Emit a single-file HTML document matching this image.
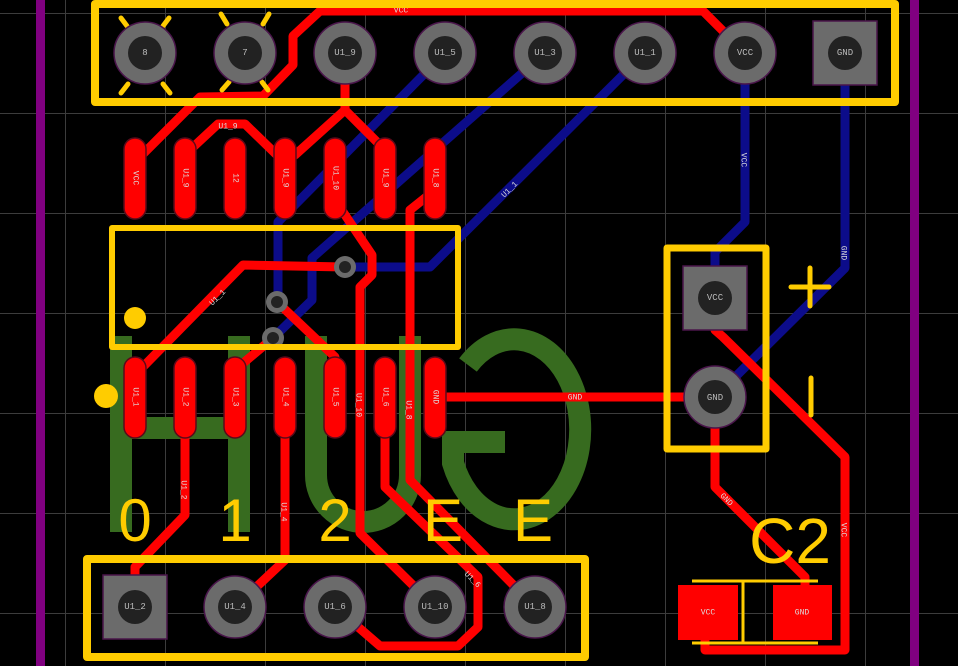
<!DOCTYPE html>
<html><head><meta charset="utf-8"><style>
html,body{margin:0;padding:0;background:#000;}
svg{display:block}
.lbl{font-family:"Liberation Mono",monospace;font-size:9px;fill:#bbb;text-anchor:middle;dominant-baseline:central}
.tl{font-family:"Liberation Mono",monospace;font-size:8px;fill:#ddd;text-anchor:middle;dominant-baseline:central}
.big{font-family:"Liberation Sans",sans-serif;fill:#ffcc00;text-anchor:middle}
</style></head><body>
<svg width="958" height="666" viewBox="0 0 958 666" xmlns="http://www.w3.org/2000/svg">
<rect width="958" height="666" fill="#000"/>
<g stroke="#3c3c3c" stroke-width="1">
<line x1="65.5" y1="0" x2="65.5" y2="666"/><line x1="165.5" y1="0" x2="165.5" y2="666"/><line x1="265.5" y1="0" x2="265.5" y2="666"/><line x1="365.5" y1="0" x2="365.5" y2="666"/><line x1="465.5" y1="0" x2="465.5" y2="666"/><line x1="565.5" y1="0" x2="565.5" y2="666"/><line x1="665.5" y1="0" x2="665.5" y2="666"/><line x1="765.5" y1="0" x2="765.5" y2="666"/><line x1="865.5" y1="0" x2="865.5" y2="666"/>
<line x1="0" y1="13.5" x2="958" y2="13.5"/><line x1="0" y1="113.5" x2="958" y2="113.5"/><line x1="0" y1="213.5" x2="958" y2="213.5"/><line x1="0" y1="313.5" x2="958" y2="313.5"/><line x1="0" y1="413.5" x2="958" y2="413.5"/><line x1="0" y1="513.5" x2="958" y2="513.5"/><line x1="0" y1="613.5" x2="958" y2="613.5"/>
</g>
<rect x="36" y="0" width="9" height="666" fill="#800080"/>
<rect x="910" y="0" width="9" height="666" fill="#800080"/>
<g stroke="#376b1f" stroke-width="22" fill="none">
<line x1="121" y1="336" x2="121" y2="532"/><line x1="239" y1="336" x2="239" y2="532"/><line x1="121" y1="428" x2="239" y2="428"/>
<path d="M316 336 L316 475 A47 47 0 0 0 410 475 L410 336"/>
<path d="M468 365 A66 90 0 1 1 453 463 L453 442 L505 442"/>
</g>
<g stroke="#0c0c8a" stroke-width="9" fill="none" stroke-linejoin="round" stroke-linecap="round">
<path d="M445 53 L278 222 L278 302"/>
<path d="M545 53 L312 258 L312 300 L273 338"/>
<path d="M645 53 L430 267 L345 267"/>
<path d="M745 53 L745 222 L715 252 L715 298"/>
<path d="M845 53 L845 268 L715 397"/>
</g>
<g stroke="#ff0000" stroke-width="9" fill="none" stroke-linejoin="round" stroke-linecap="round">
<path d="M745 53 L703 11 L320 11 L293 36 L293 65 L263 96 L200 97 L140 157"/>
<path d="M345 53 L345 110 L295 155"/><path d="M345 110 L385 150"/>
<path d="M190 150 L218 124 L245 124 L280 158"/>
<path d="M335 200 L372 255 L372 275 L360 287 L360 533 L435 607"/>
<path d="M435 190 L410 210 L410 480 L535 607"/>
<path d="M385 437 L385 487 L478 577 L478 627 L458 646 L380 646 L335 607"/>
<path d="M185 437 L185 515 L135 567 L135 590"/>
<path d="M285 437 L285 560 L235 607"/>
<path d="M135 375 L243 265 L345 267"/>
<path d="M235 370 L273 338"/>
<path d="M277 302 L335 357"/>
<path d="M435 397 L715 397"/>
<path d="M715 330 L723 337 L845 457 L845 650 L705 650 L705 630"/>
<path d="M715 397 L715 487 L805 577 L805 600"/>
</g>
<text class="tl" x="401" y="11">VCC</text>
<text class="tl" x="575" y="398">GND</text>
<text class="tl" x="743" y="160" transform="rotate(90 743 160)">VCC</text>
<text class="tl" x="843" y="253" transform="rotate(90 843 253)">GND</text>
<text class="tl" x="843" y="530" transform="rotate(90 843 530)">VCC</text>
<text class="tl" x="510" y="190" transform="rotate(-45 510 190)">U1_1</text>
<text class="tl" x="228" y="127">U1_9</text>
<text class="tl" x="218" y="298" transform="rotate(-45 218 298)">U1_1</text>
<text class="tl" x="183" y="490" transform="rotate(90 183 490)">U1_2</text>
<text class="tl" x="283" y="512" transform="rotate(90 283 512)">U1_4</text>
<text class="tl" x="408" y="410" transform="rotate(90 408 410)">U1_8</text>
<text class="tl" x="358" y="405" transform="rotate(90 358 405)">U1_10</text>
<text class="tl" x="472" y="580" transform="rotate(45 472 580)">U1_6</text>
<text class="tl" x="726" y="500" transform="rotate(45 726 500)">GND</text>
<g><circle cx="345" cy="267" r="11" fill="#6b6b6b"/><circle cx="345" cy="267" r="6" fill="#222"/>
<circle cx="277" cy="302" r="11" fill="#6b6b6b"/><circle cx="277" cy="302" r="6" fill="#222"/>
<circle cx="273" cy="338" r="11" fill="#6b6b6b"/><circle cx="273" cy="338" r="6" fill="#222"/></g>
<g fill="#ff0000" stroke="#5a0a1a" stroke-width="1.5">
<rect x="124" y="138" width="22" height="81" rx="11"/><rect x="174" y="138" width="22" height="81" rx="11"/><rect x="224" y="138" width="22" height="81" rx="11"/><rect x="274" y="138" width="22" height="81" rx="11"/><rect x="324" y="138" width="22" height="81" rx="11"/><rect x="374" y="138" width="22" height="81" rx="11"/><rect x="424" y="138" width="22" height="81" rx="11"/>
<rect x="124" y="357" width="22" height="81" rx="11"/><rect x="174" y="357" width="22" height="81" rx="11"/><rect x="224" y="357" width="22" height="81" rx="11"/><rect x="274" y="357" width="22" height="81" rx="11"/><rect x="324" y="357" width="22" height="81" rx="11"/><rect x="374" y="357" width="22" height="81" rx="11"/><rect x="424" y="357" width="22" height="81" rx="11"/>
</g>
<g>
<text class="tl" x="135" y="178" transform="rotate(90 135 178)">VCC</text>
<text class="tl" x="185" y="178" transform="rotate(90 185 178)">U1_9</text>
<text class="tl" x="235" y="178" transform="rotate(90 235 178)">12</text>
<text class="tl" x="285" y="178" transform="rotate(90 285 178)">U1_9</text>
<text class="tl" x="335" y="178" transform="rotate(90 335 178)">U1_10</text>
<text class="tl" x="385" y="178" transform="rotate(90 385 178)">U1_9</text>
<text class="tl" x="435" y="178" transform="rotate(90 435 178)">U1_8</text>
<text class="tl" x="135" y="397" transform="rotate(90 135 397)">U1_1</text>
<text class="tl" x="185" y="397" transform="rotate(90 185 397)">U1_2</text>
<text class="tl" x="235" y="397" transform="rotate(90 235 397)">U1_3</text>
<text class="tl" x="285" y="397" transform="rotate(90 285 397)">U1_4</text>
<text class="tl" x="335" y="397" transform="rotate(90 335 397)">U1_5</text>
<text class="tl" x="385" y="397" transform="rotate(90 385 397)">U1_6</text>
<text class="tl" x="435" y="397" transform="rotate(90 435 397)">GND</text>
</g>
<rect x="678" y="585" width="60" height="55" fill="#ff0000"/>
<rect x="773" y="585" width="59" height="55" fill="#ff0000"/>
<text class="tl" x="708" y="613">VCC</text><text class="tl" x="802" y="613">GND</text>
<g stroke="#ffcc00" fill="none" stroke-width="8" stroke-linejoin="round">
<rect x="95" y="4" width="800" height="98"/>
<rect x="112" y="228" width="346" height="119" stroke-width="6"/>
<rect x="87" y="559" width="498" height="98"/>
<rect x="667" y="248" width="99" height="201" stroke-width="7"/>
</g>
<g stroke="#ffcc00" stroke-width="5" stroke-linecap="round">
<line x1="791" y1="287" x2="829" y2="287"/><line x1="810" y1="268" x2="810" y2="306"/>
<line x1="811" y1="378" x2="811" y2="415"/>
<line x1="121" y1="18" x2="127" y2="26"/><line x1="169" y1="18" x2="163" y2="26"/><line x1="121" y1="93" x2="128" y2="84"/><line x1="170" y1="93" x2="163" y2="84"/>
<line x1="221" y1="14" x2="227" y2="24"/><line x1="269" y1="14" x2="263" y2="24"/><line x1="222" y1="90" x2="229" y2="82"/><line x1="268" y1="90" x2="262" y2="82"/>
</g>
<g stroke="#ffcc00" stroke-width="3">
<line x1="692" y1="581" x2="818" y2="581"/><line x1="692" y1="643" x2="818" y2="643"/><line x1="743" y1="581" x2="743" y2="643"/>
</g>
<circle cx="135" cy="318" r="11" fill="#ffcc00"/>
<circle cx="106" cy="396" r="12" fill="#ffcc00"/>
<text class="big" x="135" y="541" font-size="60">0</text>
<text class="big" x="235" y="541" font-size="60">1</text>
<text class="big" x="335" y="541" font-size="60">2</text>
<text class="big" x="443" y="541" font-size="60">E</text>
<text class="big" x="533" y="541" font-size="60">E</text>
<text class="big" x="790" y="563" font-size="64">C2</text>
<g stroke="#4a154b" stroke-width="1.5">
<circle cx="145" cy="53" r="31" fill="#6b6b6b"/><circle cx="245" cy="53" r="31" fill="#6b6b6b"/><circle cx="345" cy="53" r="31" fill="#6b6b6b"/><circle cx="445" cy="53" r="31" fill="#6b6b6b"/><circle cx="545" cy="53" r="31" fill="#6b6b6b"/><circle cx="645" cy="53" r="31" fill="#6b6b6b"/><circle cx="745" cy="53" r="31" fill="#6b6b6b"/>
<rect x="813" y="21" width="64" height="64" fill="#6b6b6b"/>
<rect x="683" y="266" width="64" height="64" fill="#6b6b6b"/>
<circle cx="715" cy="397" r="31" fill="#6b6b6b"/>
<rect x="103" y="575" width="64" height="64" fill="#6b6b6b"/>
<circle cx="235" cy="607" r="31" fill="#6b6b6b"/><circle cx="335" cy="607" r="31" fill="#6b6b6b"/><circle cx="435" cy="607" r="31" fill="#6b6b6b"/><circle cx="535" cy="607" r="31" fill="#6b6b6b"/>
</g>
<g fill="#222">
<circle cx="145" cy="53" r="17"/><circle cx="245" cy="53" r="17"/><circle cx="345" cy="53" r="17"/><circle cx="445" cy="53" r="17"/><circle cx="545" cy="53" r="17"/><circle cx="645" cy="53" r="17"/><circle cx="745" cy="53" r="17"/><circle cx="845" cy="53" r="17"/>
<circle cx="715" cy="298" r="17"/><circle cx="715" cy="397" r="17"/>
<circle cx="135" cy="607" r="17"/><circle cx="235" cy="607" r="17"/><circle cx="335" cy="607" r="17"/><circle cx="435" cy="607" r="17"/><circle cx="535" cy="607" r="17"/>
</g>
<g>
<text class="lbl" x="145" y="53">8</text><text class="lbl" x="245" y="53">7</text><text class="lbl" x="345" y="53">U1_9</text><text class="lbl" x="445" y="53">U1_5</text><text class="lbl" x="545" y="53">U1_3</text><text class="lbl" x="645" y="53">U1_1</text><text class="lbl" x="745" y="53">VCC</text><text class="lbl" x="845" y="53">GND</text>
<text class="lbl" x="715" y="298">VCC</text><text class="lbl" x="715" y="398">GND</text>
<text class="lbl" x="135" y="607">U1_2</text><text class="lbl" x="235" y="607">U1_4</text><text class="lbl" x="335" y="607">U1_6</text><text class="lbl" x="435" y="607">U1_10</text><text class="lbl" x="535" y="607">U1_8</text>
</g>
</svg>
</body></html>
